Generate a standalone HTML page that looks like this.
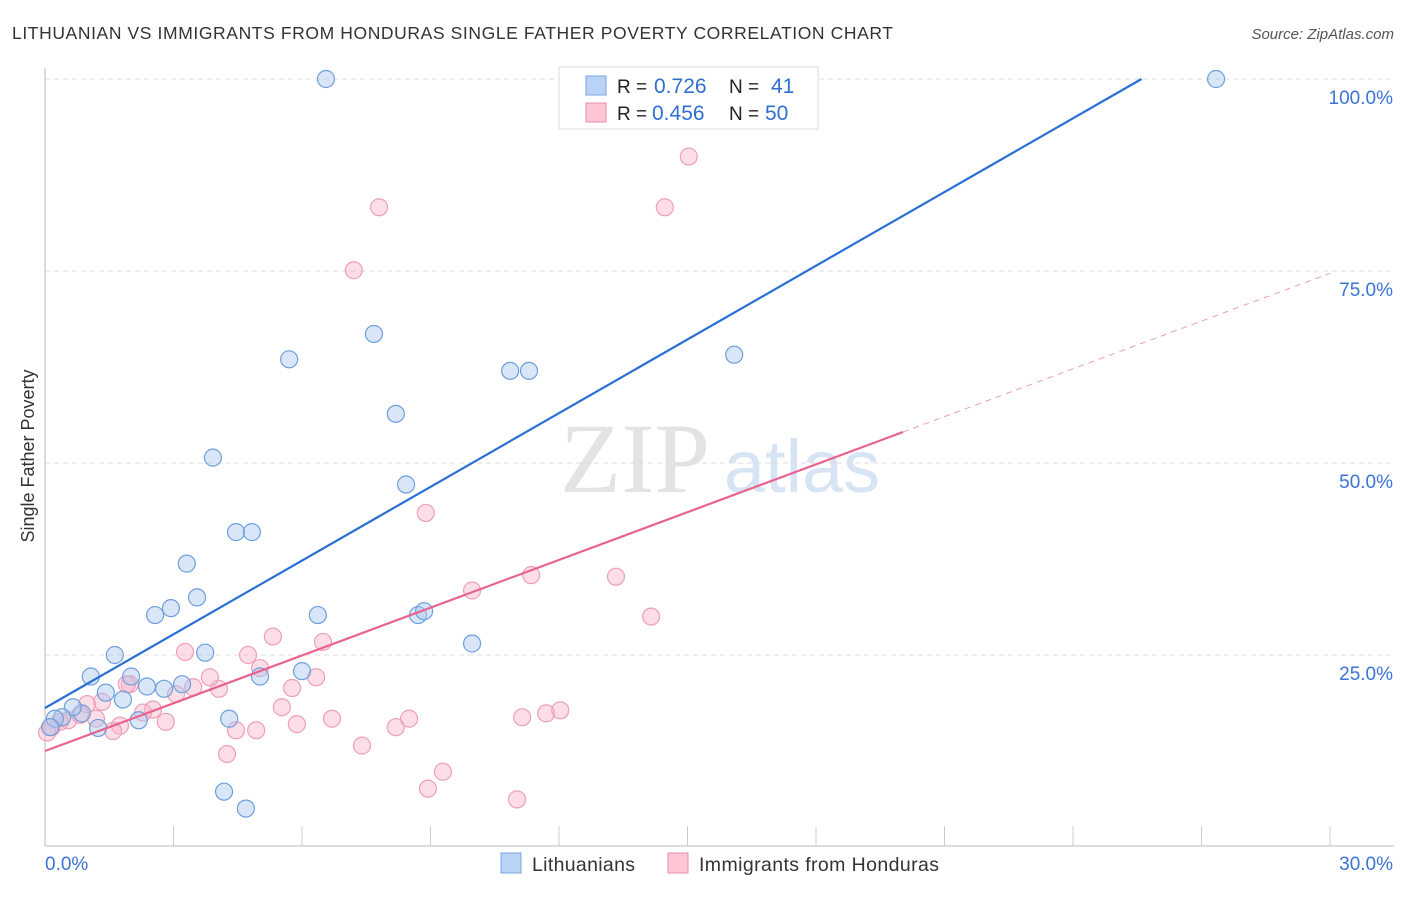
<!DOCTYPE html>
<html><head><meta charset="utf-8"><style>
body{margin:0;background:#fff;font-family:"Liberation Sans",sans-serif}
#wrap{position:relative;width:1406px;height:892px}
</style></head><body>
<div id="wrap">
<svg id="svg" width="1406" height="892" xmlns="http://www.w3.org/2000/svg">
<text x="12" y="39" font-size="17.5" fill="#333" textLength="881">LITHUANIAN VS IMMIGRANTS FROM HONDURAS SINGLE FATHER POVERTY CORRELATION CHART</text>
<text x="1394" y="39" font-size="15" fill="#555" font-style="italic" text-anchor="end">Source: ZipAtlas.com</text>
<text x="34" y="456" font-size="18" fill="#333" text-anchor="middle" transform="rotate(-90 34 456)">Single Father Poverty</text>
<g><text x="635" y="492" font-size="100" fill="#e3e3e3" font-family="Liberation Serif,serif" text-anchor="middle">ZIP</text><text x="802" y="492" font-size="74" fill="#d6e4f4" text-anchor="middle">atlas</text></g>
<g id="grid"></g><g id="marks"></g>
<g>
<rect x="559" y="67" width="259" height="62" fill="#fff" stroke="#ddd"/>
<rect x="586" y="76" width="20" height="19" fill="#b9d3f5" stroke="#7aa6e0"/>
<rect x="586" y="103" width="20" height="19" fill="#fcc6d4" stroke="#eb8fa9"/>
<text x="617" y="93" font-size="19" fill="#222">R = <tspan x="654" font-size="21" fill="#2f6fd1">0.726</tspan><tspan x="729">N = </tspan><tspan x="771" font-size="21" fill="#2f6fd1">41</tspan></text>
<text x="617" y="120" font-size="19" fill="#222">R = <tspan x="652" font-size="21" fill="#2f6fd1">0.456</tspan><tspan x="729">N = </tspan><tspan x="765" font-size="21" fill="#2f6fd1">50</tspan></text>
</g>
<g>
<rect x="501" y="853" width="20" height="20" fill="#b9d3f5" stroke="#7aa6e0"/>
<text x="532" y="871" font-size="19.5" fill="#333" textLength="103">Lithuanians</text>
<rect x="668" y="853" width="20" height="20" fill="#fcc6d4" stroke="#eb8fa9"/>
<text x="699" y="871" font-size="19.5" fill="#333" textLength="240">Immigrants from Honduras</text>
</g>
</svg></div>
<script>
const yTicks=[25,50,75,100];
const xTickLabels=["0.0%","30.0%"];
const blueX=[6.56,27.34,7.68,5.70,16.09,10.86,11.30,8.19,3.92,8.43,4.46,4.83,3.31,2.94,2.57,3.55,6.37,8.71,8.85,9.97,3.74,1.63,1.07,2.01,5.02,6.00,1.42,1.82,2.38,2.78,3.20,4.30,4.18,4.69,1.24,2.19,0.86,0.65,0.40,0.23,0.12];
const blueY=[100,100,66.8,63.5,64.1,62.0,62.0,56.4,50.7,47.2,41.0,41.0,36.9,31.1,30.2,32.5,30.2,30.2,30.7,26.5,25.3,25.0,22.2,22.2,22.2,22.9,20.1,19.2,20.9,20.6,21.2,16.7,7.2,5.0,15.5,16.5,17.4,18.2,16.9,16.7,15.6];
const pinkX=[15.03,7.80,14.47,7.21,8.89,11.35,9.97,13.33,14.15,5.32,6.49,3.27,4.74,5.02,6.33,5.77,3.46,4.06,3.85,3.06,1.98,1.33,0.98,2.52,2.29,1.75,1.59,2.82,4.46,4.93,5.53,5.88,6.70,7.40,4.25,8.19,8.50,11.14,11.70,12.03,9.29,8.94,11.02,0.54,0.35,0.16,0.05,0.82,1.19,1.91];
const pinkY=[89.9,83.3,83.3,75.1,43.5,35.4,33.4,35.2,30.0,27.4,26.7,25.4,25.0,23.3,22.1,20.7,20.8,20.6,22.1,19.9,21.2,18.9,18.6,17.9,17.5,15.8,15.1,16.3,15.2,15.2,18.2,16.0,16.7,13.2,12.1,15.6,16.7,16.9,17.4,17.8,9.8,7.6,6.2,16.5,16.3,15.6,14.9,17.2,16.7,21.2];
const blueLine=[18.1,100,25.6];
const pinkLine=[12.5,74.7,20.03];
const X=v=>45+v/30*1285, Y=v=>847-v*7.68;
const NS="http://www.w3.org/2000/svg";
function mk(p,t,a){const e=document.createElementNS(NS,t);for(const k in a)e.setAttribute(k,a[k]);p.appendChild(e);return e;}
const g=document.getElementById('grid'), m=document.getElementById('marks');
yTicks.forEach(t=>{
 const l=mk(g,'line',{x1:45,x2:1394,y1:Y(t),y2:Y(t),stroke:'#ddd','stroke-dasharray':'5,4'});
 
 
 const tx=mk(g,'text',{x:1393,y:Y(t)+25,'font-size':19,fill:'#3b73d6','text-anchor':'end'});tx.textContent=t.toFixed(1)+'%';
 
 
});
mk(g,'line',{x1:45,x2:45,y1:68,y2:846,stroke:'#bbb'});
const ax=mk(g,'line',{x1:45,x2:1394,y1:846,y2:846,stroke:'#bbb'});


for(let i=1;i<=10;i++){mk(g,'line',{x1:X(i*3),x2:X(i*3),y1:826,y2:846,stroke:'#ccc'});}
[[0,'start',45],[30,'end',1393]].forEach((d,i)=>{const t=mk(g,'text',{x:d[2],y:870,'font-size':19,fill:'#3b73d6','text-anchor':d[1]});t.textContent=xTickLabels[i];
 
 });
pinkX.forEach((x,i)=>{const c=mk(m,'circle',{cx:X(x),cy:Y(pinkY[i]),r:8.5,fill:'rgba(250,180,200,0.45)',stroke:'#eda0b7','stroke-width':1.2});
 
 });
blueX.forEach((x,i)=>{const c=mk(m,'circle',{cx:X(x),cy:Y(blueY[i]),r:8.5,fill:'rgba(170,200,240,0.45)',stroke:'#6e9fdc','stroke-width':1.2});
 
 });
const bl=mk(m,'line',{x1:X(0),y1:Y(blueLine[0]),x2:X(blueLine[2]),y2:Y(blueLine[1]),stroke:'#2a6fd6','stroke-width':2.2});


const py=x=>pinkLine[0]+(pinkLine[1]-pinkLine[0])*x/30;
const pl=mk(m,'line',{x1:X(0),y1:Y(py(0)),x2:X(pinkLine[2]),y2:Y(py(pinkLine[2])),stroke:'#e8648f','stroke-width':2.2});


const pd=mk(m,'line',{x1:X(pinkLine[2]),y1:Y(py(pinkLine[2])),x2:X(30),y2:Y(py(30)),stroke:'#eaa0b6','stroke-width':1,'stroke-dasharray':'6,5'});


</script>
</body></html>
